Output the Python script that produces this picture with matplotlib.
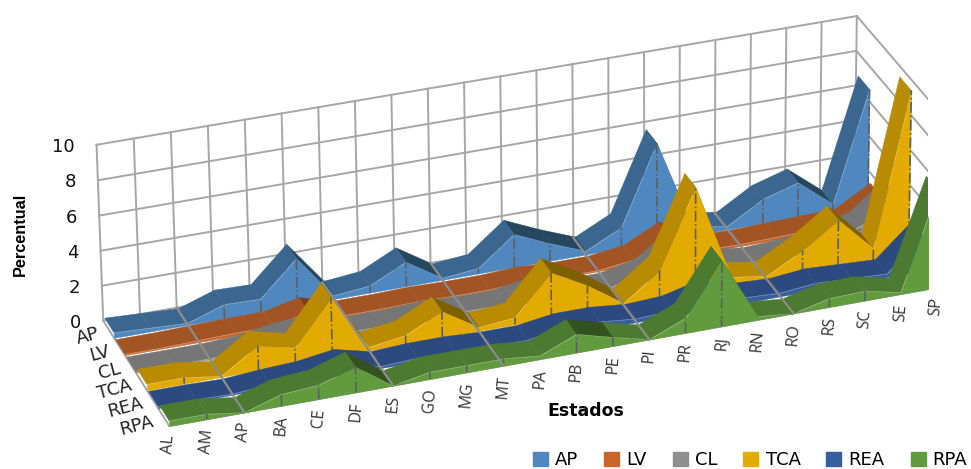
import numpy as np
import matplotlib
matplotlib.use('Agg')
import matplotlib.pyplot as plt
from matplotlib.patches import Patch
from mpl_toolkits.mplot3d import proj3d
from mpl_toolkits.mplot3d.art3d import Poly3DCollection

estados = ['AL','AM','AP','BA','CE','DF','ES','GO','MG','MT','PA','PB','PE','PI','PR','RJ','RN','RO','RS','SC','SE','SP']
nomes = ['AP','LV','CL','TCA','REA','RPA']
ap  = [.3,.2,.1,.8,.75,2.7,.2,.4,1.4,.1,.3,1.9,1.0,.2,1.2,5.7,.5,.2,1.4,2.0,.4,6.7]
lv  = [.05,.05,.1,.15,.15,.6,.05,.05,.1,.05,.05,.15,.05,.05,.3,1.3,.15,.1,.15,.2,.25,1.4]
cl  = [.05,.05,.05,.15,.5,.6,.15,.15,.25,.15,.15,.5,.05,.05,.5,2.0,.3,.05,.15,.4,1.0,2.5]
tca = [.35,.35,.05,1.4,.9,3.4,.2,.5,1.5,.2,.4,2.6,1.5,.1,1.6,6.0,.5,.2,1.3,2.7,.7,9.4]
rea = [.1,.1,.05,.2,.3,.6,.1,.2,.2,.1,.1,.4,.4,.2,.3,.8,.3,.2,.4,.3,.2,2.0]
rpa = [.3,.3,.0,.65,.8,1.45,0,.4,.4,.4,.2,1.05,.5,0,.85,3.75,.2,0,.5,.55,.1,5.6]
series = [ap, lv, cl, tca, rea, rpa]
eixo_z = [0, 2, 4, 6, 8, 10]
linhas_fundo = [2, 6, 9, 13, 17]

cor_frente = ['#4f87be','#c8652b','#8e8e8e','#e3ab00','#375f9e','#629a3e']
cor_topo   = ['#3a6690','#a35424','#767676','#b88b00','#2c4a80','#4c7a30']
cor_desce  = ['#27475f','#7a3f1b','#555555','#7f6000','#1f3560','#33521f']
cor_grade = '#a6a6a6'

fig = plt.figure(figsize=(9.71, 4.69), dpi=100)
ax = fig.add_axes([89.75 / 971, -178.16 / 469, 837.96 / 971, 837.96 / 469], projection='3d', computed_zorder=False)
ax.view_init(elev=28.526, azim=-109.08, roll=.537)
ax.set_proj_type('persp', focal_length=1.755)
ax.set_box_aspect((4.244, 1.18, 1.048))
ax.set_xlim(0, 21); ax.set_ylim(0, 6); ax.set_zlim(0, 10)
ax.set_axis_off()
ax.patch.set_alpha(0)
M = ax.get_proj()

def rotulo(x, y, z, txt, dx, dy, **kw):
    # posicao 3d -> 2d, deslocamento em pixels
    px, py, _ = proj3d.proj_transform(x, y, z, M)
    ax.annotate(txt, (px, py), xytext=(dx * .72, dy * .72), textcoords='offset points', annotation_clip=False, zorder=50, **kw)

# grade
for z in eixo_z:
    ax.plot([0, 21, 21], [6, 6, 0], [z, z, z], color=cor_grade, lw=1.4, zorder=1)
for i in range(22):
    ax.plot([i, i], [6, 6], [0, 10], color=cor_grade, lw=1.4, zorder=1)
ax.plot([0, 0], [6, 0], [0, 0], color=cor_grade, lw=1.4, zorder=1)
ax.plot([0, 21], [0, 0], [0, 0], color=cor_grade, lw=1.4, zorder=1)

x = np.arange(22)
for k, v in enumerate(series):
    y0, y1 = 5 - k, 5.84 - k
    topo, cores = [], []
    for i in range(21):
        topo.append([(i, y0, v[i]), (i + 1, y0, v[i + 1]), (i + 1, y1, v[i + 1]), (i, y1, v[i])])
        cores.append(cor_desce[k] if v[i + 1] - v[i] < -.5 else cor_topo[k])
    ax.add_collection3d(Poly3DCollection(topo, facecolors=cores, edgecolors=cores, linewidths=.3, zorder=10 + 3 * k))
    frente = [[(i, y0, 0) for i in x][::-1] + [(i, y0, v[i]) for i in x]]
    ax.add_collection3d(Poly3DCollection(frente, facecolors=cor_frente[k], edgecolors=cor_frente[k], linewidths=.3, zorder=11 + 3 * k))
    for i in x[1:]:
        if v[i] >= .25:
            ax.plot([i, i], [y0, y0], [0, v[i]], color='#5a5f66', lw=1.2, ls='-.', zorder=12 + 3 * k)

for i in linhas_fundo:
    ax.plot([i, i], [6, 0], [0, 0], color='#8c8c8c', lw=1.6, zorder=40)

for i, e in enumerate(estados):
    rotulo(i, 0, 0, e, 0, -9, rotation=85, ha='center', va='top', fontsize=11.5, family='Open Sans', color='#333333')
for k, n in enumerate(nomes):
    rotulo(0, 5.5 - k, 0, n, -10, -4, rotation=15, rotation_mode='anchor', ha='right', va='center', fontsize=13, color='#222222')
for z in eixo_z:
    rotulo(0, 6, z, str(z), -22, -2, ha='right', va='center', fontsize=13, color='#111111')

fig.text(20 / 971, 1 - 234 / 469, 'Percentual', rotation=90, ha='center', va='center', fontsize=11.7, fontweight='bold', family='Liberation Sans')
fig.text(586 / 971, 1 - 411 / 469, 'Estados', ha='center', va='center', fontsize=12.5, fontweight='bold')
fig.legend([Patch(color=c) for c in cor_frente], nomes, ncol=6, frameon=False, loc='lower right', bbox_to_anchor=(1.013, -.035),
           fontsize=13, handlelength=.83, handleheight=.83, columnspacing=1.43, handletextpad=.4)
fig.savefig('out.png', dpi=100)
